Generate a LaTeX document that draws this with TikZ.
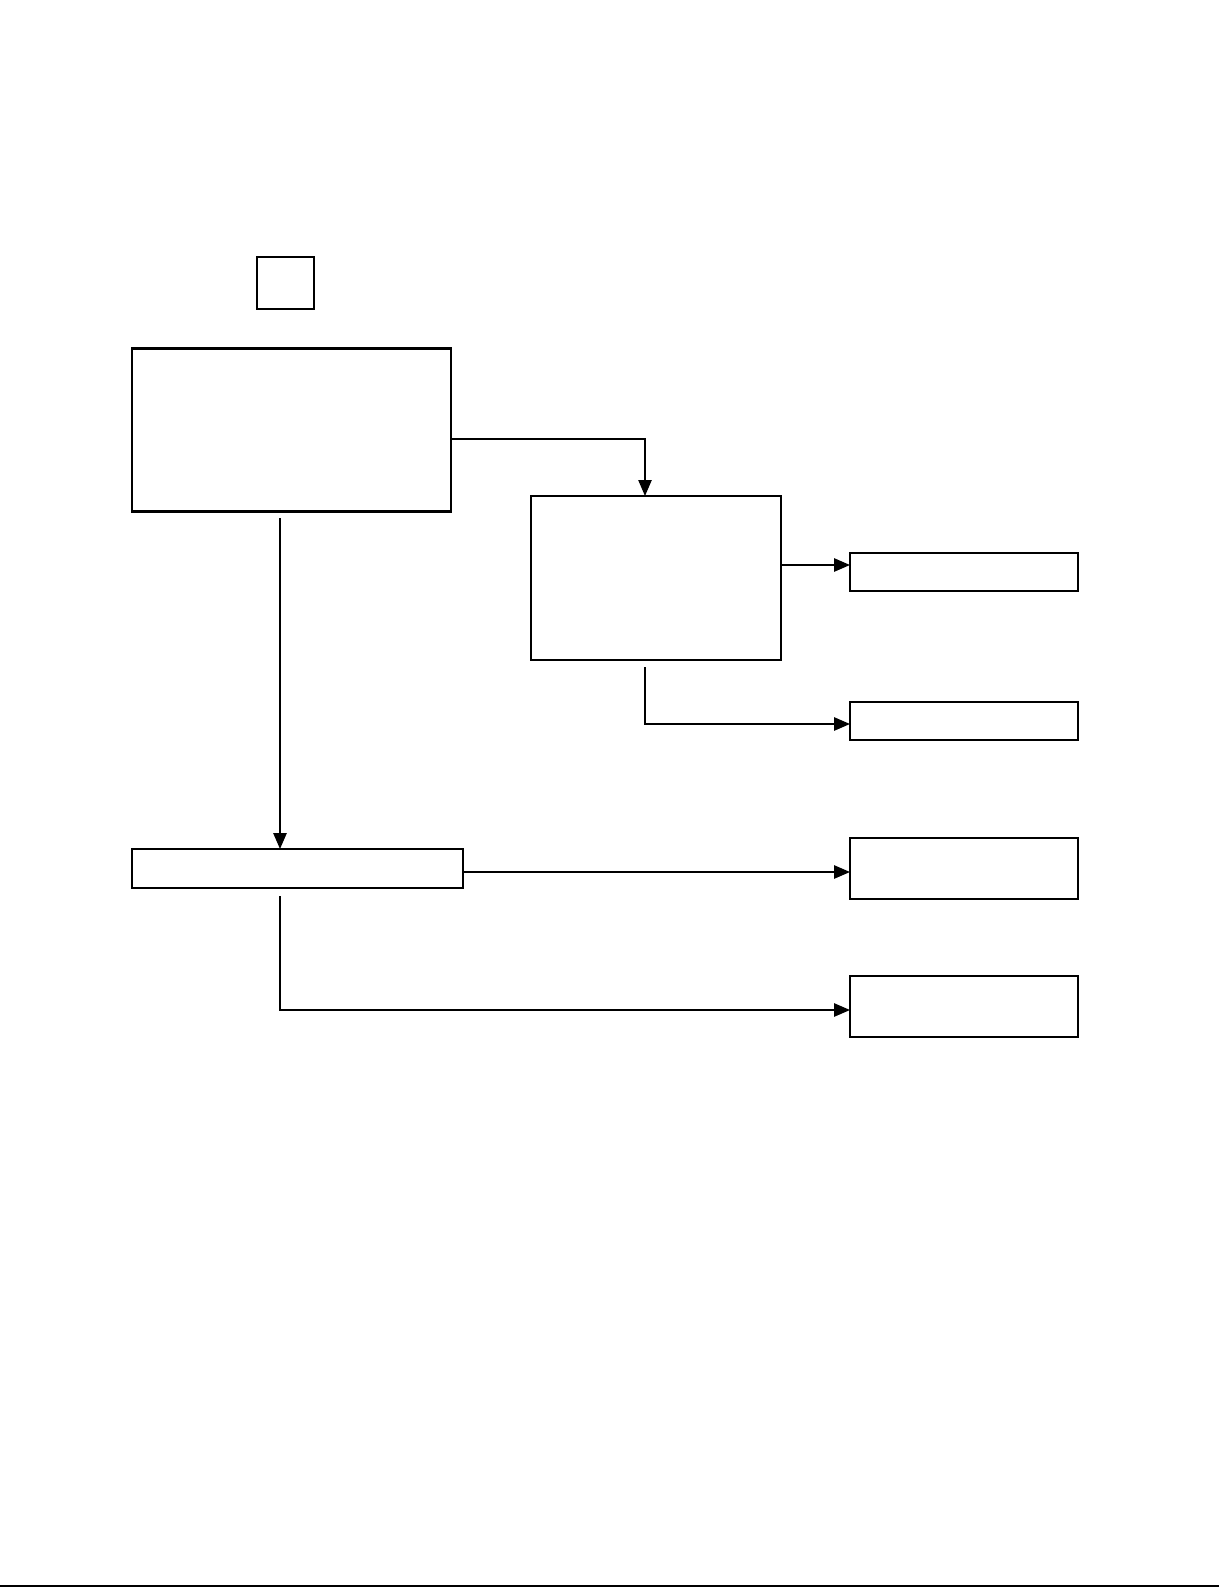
\documentclass[tikz,border=0pt]{standalone}
\usetikzlibrary{arrows.meta,calc}
\begin{document}
\begin{tikzpicture}[x=0.75pt,y=-0.75pt,
  box/.style={draw=black,line width=1.5pt,fill=white,inner sep=0pt,outer sep=0pt},
  conn/.style={draw=black,line width=1.35pt},
  arr/.style={conn,-{Triangle[length=12pt,width=10pt]}}]
\useasboundingbox (0,0) rectangle (1219,1587);
\fill[white] (0,0) rectangle (1219,1587);
% boxes
\node[box,minimum width=57*0.75pt,minimum height=52*0.75pt] (small) at (285.5,283) {};
\node[box,line width=1.8pt,minimum width=319*0.75pt,minimum height=163*0.75pt] (big) at (291.5,430) {};
\node[box,minimum width=250*0.75pt,minimum height=164*0.75pt] (b2) at (656,578) {};
\node[box,minimum width=228*0.75pt,minimum height=38*0.75pt] (b3) at (964,572) {};
\node[box,minimum width=228*0.75pt,minimum height=38*0.75pt] (b4) at (964,721) {};
\node[box,minimum width=331*0.75pt,minimum height=39*0.75pt] (b5) at (297.5,868.5) {};
\node[box,minimum width=228*0.75pt,minimum height=61*0.75pt] (b6) at (964,868.5) {};
\node[box,minimum width=228*0.75pt,minimum height=61*0.75pt] (b7) at (964,1006.5) {};
% connector helper points
\coordinate (y1) at (0,439);
\coordinate (x1) at (645,0);
\coordinate (y2) at (0,565);
\coordinate (s3) at (645,667);
\coordinate (y3) at (0,724);
\coordinate (s4) at (280,518);
\coordinate (y5) at (0,872);
\coordinate (s6) at (280,896);
\coordinate (y6) at (0,1010);
% connectors
\draw[arr,line width=1.1pt] (big.east |- y1) -| (b2.north -| x1);
\draw[arr] (b2.east |- y2) -- (b3.west |- y2);
\draw[arr] (s3) |- (b4.west |- y3);
\draw[arr] (s4) -- (b5.north -| s4);
\draw[arr] (b5.east |- y5) -- (b6.west |- y5);
\draw[arr] (s6) |- (b7.west |- y6);
% bottom rule
\draw[line width=1.5pt] (0,1585.5) -- (1219,1585.5);
\end{tikzpicture}
\end{document}
